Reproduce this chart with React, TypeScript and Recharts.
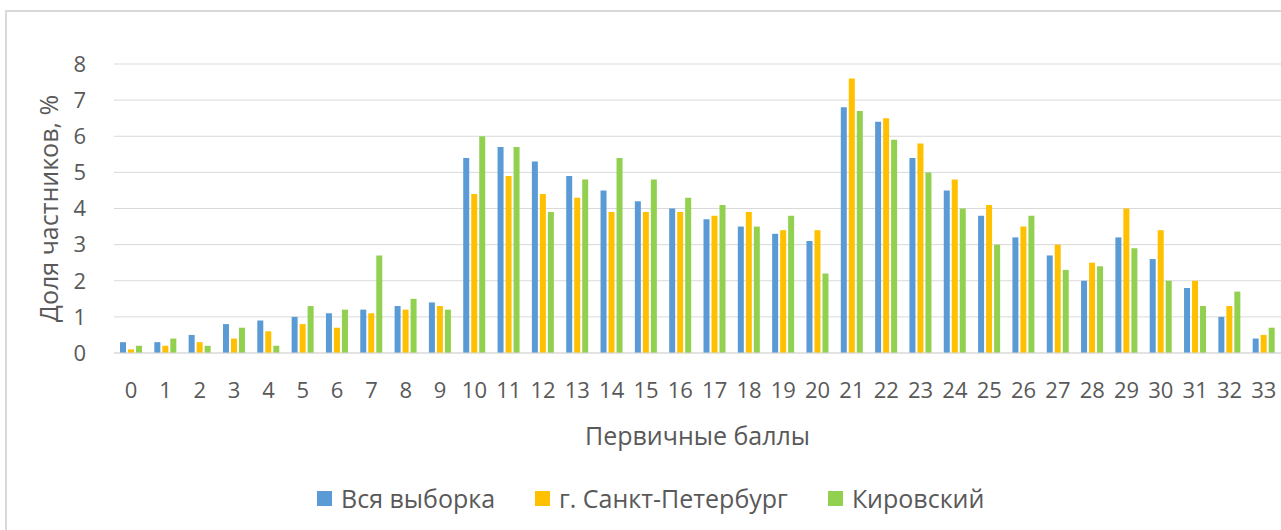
import React from 'react';
import { BarChart, Bar, XAxis, YAxis, CartesianGrid, Legend } from 'recharts';

const categories = ['0','1','2','3','4','5','6','7','8','9','10','11','12','13','14','15','16','17','18','19','20','21','22','23','24','25','26','27','28','29','30','31','32','33'];
const allSample = [0.3,0.3,0.5,0.8,0.9,1.0,1.1,1.2,1.3,1.4,5.4,5.7,5.3,4.9,4.5,4.2,4.0,3.7,3.5,3.3,3.1,6.8,6.4,5.4,4.5,3.8,3.2,2.7,2.0,3.2,2.6,1.8,1.0,0.4];
const spb = [0.1,0.2,0.3,0.4,0.6,0.8,0.7,1.1,1.2,1.3,4.4,4.9,4.4,4.3,3.9,3.9,3.9,3.8,3.9,3.4,3.4,7.6,6.5,5.8,4.8,4.1,3.5,3.0,2.5,4.0,3.4,2.0,1.3,0.5];
const kirov = [0.2,0.4,0.2,0.7,0.2,1.3,1.2,2.7,1.5,1.2,6.0,5.7,3.9,4.8,5.4,4.8,4.3,4.1,3.5,3.8,2.2,6.7,5.9,5.0,4.0,3.0,3.8,2.3,2.4,2.9,2.0,1.3,1.7,0.7];
const yTicks = [0,1,2,3,4,5,6,7,8];
const seriesNames = ['Вся выборка', 'г. Санкт-Петербург', 'Кировский'];
const seriesColors = ['#5b9bd5', '#ffc000', '#92d050'];

const data = categories.map((c, i) => ({ cat: c, a: allSample[i], b: spb[i], c: kirov[i] }));

const FONT = '"Open Sans", sans-serif';
const TXT = '#595959';

const LegendContent = () => (
  <div style={{ display: 'flex', alignItems: 'center', height: 30, fontFamily: FONT, fontSize: 25, color: TXT, whiteSpace: 'nowrap' }}>
    {seriesNames.map((n, i) => (
      <div key={n} style={{ display: 'flex', alignItems: 'center', marginRight: i < 2 ? 40 : 0 }}>
        <span style={{ width: 15, height: 15, background: seriesColors[i], display: 'inline-block', marginRight: 9 }} />
        <span>{n}</span>
      </div>
    ))}
  </div>
);

export default function App() {
  return (
    <div style={{ position: 'absolute', left: 0, top: 0, width: 1281, height: 530, background: '#fff', overflow: 'hidden' }}>
      <div style={{ position: 'absolute', left: 5, top: 10, width: 1290, height: 530, borderLeft: '2px solid #d9d9d9', borderTop: '2px solid #d9d9d9' }} />
      <div style={{ position: 'absolute', left: 0, top: 0 }}>
        <BarChart width={1281} height={530} data={data} margin={{ top: 64, right: 0, left: 0, bottom: 17 }} barSize={6} barGap={2}>
          <CartesianGrid vertical={false} stroke="#d9d9d9" strokeWidth={1} />
          <XAxis dataKey="cat" height={130} tickLine={false} tickSize={0} tickMargin={29} axisLine={{ stroke: '#d9d9d9', strokeWidth: 1 }}
            tick={{ fill: TXT, fontSize: 22, fontFamily: FONT }} interval={0}
            label={{ value: 'Первичные баллы', position: 'center', dy: 18, fill: TXT, fontSize: 25, fontFamily: FONT }} />
          <YAxis width={114} domain={[0, 8]} ticks={yTicks} tickLine={false} tickSize={0} tickMargin={28} axisLine={false}
            tick={{ fill: TXT, fontSize: 22, fontFamily: FONT }}
            label={{ value: 'Доля частников, %', angle: -90, position: 'center', dx: -8, fill: TXT, fontSize: 25, fontFamily: FONT }} />
          <Legend verticalAlign="bottom" content={<LegendContent />} wrapperStyle={{ left: 317, width: 'auto' }} />
          <Bar dataKey="a" name={seriesNames[0]} fill={seriesColors[0]} isAnimationActive={false} />
          <Bar dataKey="b" name={seriesNames[1]} fill={seriesColors[1]} isAnimationActive={false} />
          <Bar dataKey="c" name={seriesNames[2]} fill={seriesColors[2]} isAnimationActive={false} />
        </BarChart>
      </div>
    </div>
  );
}
